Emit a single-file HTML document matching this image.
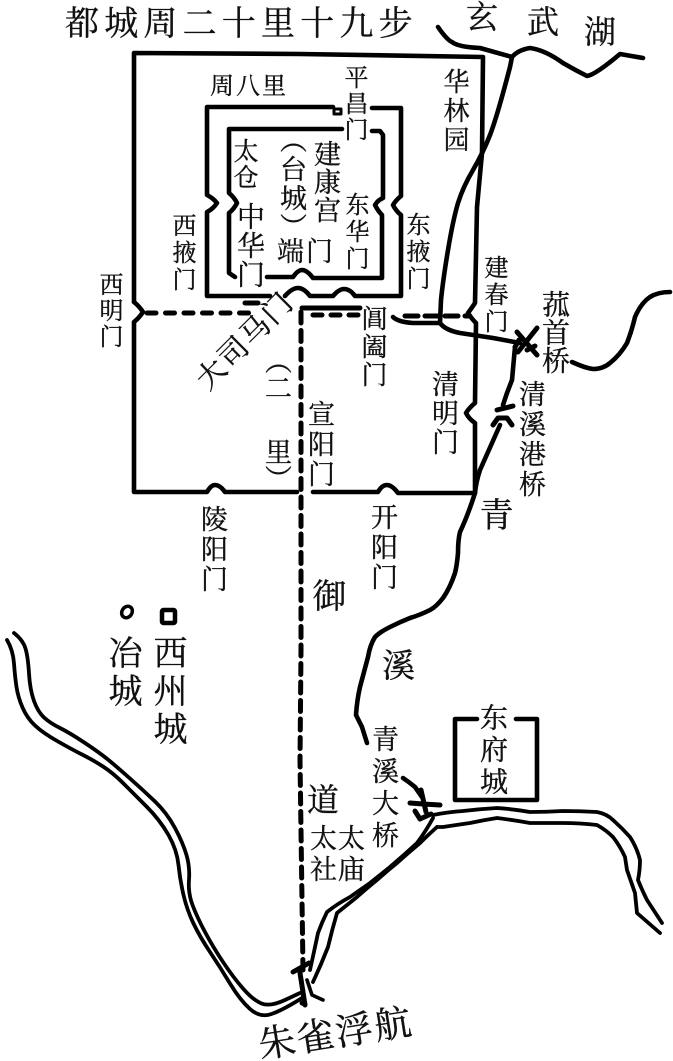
<!DOCTYPE html>
<html lang="zh"><head><meta charset="utf-8"><title>都城图</title>
<style>
html,body{margin:0;padding:0;background:#fff}
#p{position:relative;width:673px;height:1061px;overflow:hidden;background:#fff;font-family:"Liberation Serif","Noto Serif CJK SC",serif;color:#111;-webkit-text-stroke:.35px #111}
svg{position:absolute;left:0;top:0}
.v,.h{position:absolute;line-height:1;white-space:nowrap}
.v{writing-mode:vertical-rl;text-orientation:upright;margin-left:-4px}
</style></head><body><div id="p">
<svg width="673" height="1061" viewBox="0 0 673 1061" fill="none" stroke="#000" stroke-linecap="round" stroke-linejoin="round">
<!-- outer wall -->
<g stroke-width="4.6">
<path d="M134 302V53L300 54L483 57L482 153L477 207L475 303Q471 309 468 313Q471 318 476 323L475 403Q469 408 466 413Q469 419 475 423L475 493H398Q392 485 387 485Q382 485 378 492H313"/>
<path d="M134 302Q139 306 143 312Q139 318 134 322V492H207Q211 485 215 485Q220 485 225 492H297"/>
<!-- middle wall -->
<path d="M333 107H207V195Q213 198 217 203Q213 209 207 212V296H270M285 296Q292 288 298 288Q304 288 310 296H333Q339 289 344 289Q350 289 355 296H401V215Q396 211 393 205Q396 200 401 196V108H372"/>
<!-- inner wall -->
<path d="M342 129H229V193Q234 197 237 203Q234 209 229 213V273L235 277M267 277H293Q298 270 302 270Q307 270 313 278H382V215Q378 211 375 205Q378 200 383 198V135L380 131H372"/>
<path d="M334 109h7v5h-7z" stroke-width="3"/>
</g>
<!-- road -->
<g stroke-width="5">
<path stroke-dasharray="9 9.5" d="M147 313H252"/>
<path d="M245 303H258"/>
<path d="M302 308H360"/>
<path stroke-dasharray="9 9" d="M313 315H360"/>
<path stroke-dasharray="13 7" d="M405 316H470"/>
<path stroke-dasharray="11 7.5" d="M301 312L301 650L300 760L303 970"/>
</g>
<!-- rivers -->
<g stroke-width="4.6">
<path d="M438 27Q447 40 452 42Q458 47 480 48L512 57Q518 50 530 48Q545 50 563 63Q575 70 587 76Q595 75 620 54L643 58"/>
<path d="M512 57L510 67Q497 117 490 135Q483 153 473 170Q463 187 458 203Q453 220 448 250Q443 280 441 300L440 323Q445 330 460 333L493 338L520 343"/>
<path d="M393 317Q398 322 413 323L440 323"/>
<path d="M572 362Q585 368 593 369Q603 369 610 363Q620 355 627 343Q632 330 635 317Q641 303 650 297Q658 292 670 292"/>
<path d="M515 347L512 380L507 393L503 405"/>
<path d="M500 425L480 470Q476 482 475 493Q468 515 460 532Q458 540 458 553Q457 565 455 573Q450 588 443 598Q436 607 430 610Q420 615 410 618Q400 622 390 627Q380 632 375 637Q370 645 368 657Q364 672 360 687Q357 700 356 715L362 727L367 743"/>
<path d="M403 778Q409 782 415 787L422 797"/>
</g>
<g stroke-width="5">
<path d="M517 332L537 355M537 328L518 352M515 347L519 340M527 350L535 346"/>
<path d="M497 410L513 406M493 425L498 418H507L512 425"/>
<path d="M421 790L426 812M410 803L423 804L440 805M415 811L420 819L431 814"/>
<path d="M293 972L309 963M300 973L305 1005M302 1003L305 1004"/>
<path d="M307 980L312 995L323 1000" stroke-width="3.6"/>
</g>
<!-- double rivers -->
<g stroke-width="3.8">
<path d="M433 815Q448 812 463 811Q480 809 497 808Q513 809 530 812Q546 812 563 811Q580 811 597 812Q607 814 613 820Q622 828 630 837Q637 848 640 860Q640 870 638 880Q642 890 647 900L662 923"/>
<path d="M437 827L443 827Q456 825 470 823Q484 820 497 818Q513 820 530 823L563 823Q580 823 597 825Q606 830 613 837Q620 846 625 857L627 870L635 893L637 913L660 933"/>
<path d="M433 818Q426 831 417 843Q404 855 390 867Q380 875 370 883Q360 890 350 897Q337 904 327 912Q322 922 318 933Q314 952 310 970"/>
<path d="M437 827Q428 835 420 843Q408 853 397 863Q387 871 377 880Q367 888 357 897Q347 905 337 913Q332 930 328 947Q321 965 313 982"/>
<path d="M14 633Q23 640 25.500 648.500Q28 657 29 673.500Q30 690 34 701Q38 712 44 717.500Q50 723 60 728Q70 733 85 743Q100 753 108.500 760Q117 767 130 778.500Q143 790 155 801.500Q167 813 175 828Q183 843 186.500 855Q190 867 189 880Q188 893 192.500 905Q197 917 205 932Q213 947 223 962Q233 977 243 988.500Q253 1000 261.500 1003.500Q270 1007 285 1000L300 993"/>
<path d="M7 640Q13 650 14 663.500Q15 677 16.500 687Q18 697 22.500 707.500Q27 718 35 725.500Q43 733 58 741.500Q73 750 83 755Q93 760 103 766.500Q113 773 123 783Q133 793 146.500 806.500Q160 820 168.500 835Q177 850 178.500 865Q180 880 183.500 895Q187 910 193.500 923.500Q200 937 210 952Q220 967 230 983.500Q240 1000 250 1009Q260 1018 271.500 1014Q283 1010 302 998"/>
</g>
<!-- small cities -->
<ellipse cx="127" cy="612" rx="5" ry="6" stroke-width="3.5" transform="rotate(35 127 612)"/>
<rect x="162" y="610" width="13" height="13" rx="1.500" stroke-width="4.5"/>
<!-- east fort -->
<path d="M477 719H455V800H537V719H516" stroke-width="4.6"/>
</svg>

<div class="h" style="left:65px;top:8px;font-size:34px;letter-spacing:5.2px">都城周二十里十九步</div>
<div class="v" style="left:468px;top:0px;font-size:32px">玄</div>
<div class="v" style="left:529px;top:5px;font-size:32px">武</div>
<div class="v" style="left:586px;top:15px;font-size:32px">湖</div>

<div class="h" style="left:210px;top:75px;font-size:24px;letter-spacing:2px">周八里</div>
<div class="v" style="left:345px;top:65px;font-size:24px;letter-spacing:2px">平昌门</div>
<div class="v" style="left:445px;top:68px;font-size:26px;letter-spacing:3px">华林园</div>
<div class="v" style="left:235px;top:138px;font-size:25px;letter-spacing:1px">太仓</div>
<div class="v" style="left:281px;top:126px;font-size:27px;letter-spacing:2px">（台城）</div>
<div class="v" style="left:315px;top:140px;font-size:27px;letter-spacing:1px">建康宫</div>
<div class="v" style="left:346px;top:192px;font-size:24px;letter-spacing:3px">东华门</div>
<div class="v" style="left:238px;top:202px;font-size:28px;letter-spacing:1px">中华门</div>
<div class="h" style="left:277px;top:239px;font-size:27px;letter-spacing:2px">端门</div>
<div class="v" style="left:173px;top:213px;font-size:24px;letter-spacing:3px">西掖门</div>
<div class="v" style="left:407px;top:212px;font-size:24px;letter-spacing:3px">东掖门</div>
<div class="v" style="left:100px;top:272px;font-size:24px;letter-spacing:2px">西明门</div>
<div class="v" style="left:485px;top:255px;font-size:24px;letter-spacing:3px">建春门</div>
<div class="v" style="left:543px;top:290px;font-size:28px;letter-spacing:0">菰首桥</div>
<div class="v" style="left:363px;top:305px;font-size:26px;letter-spacing:2px">阊阖门</div>
<div class="h" style="left:184px;top:327px;font-size:29px;letter-spacing:2px;transform:rotate(-45deg);transform-origin:50% 50%">大司马门</div>
<div class="v" style="left:266px;top:347px;font-size:27px">（二</div>
<div class="v" style="left:266px;top:438px;font-size:27px">里）</div>
<div class="v" style="left:309px;top:400px;font-size:27px;letter-spacing:3px">宣阳门</div>
<div class="v" style="left:433px;top:370px;font-size:27px;letter-spacing:2px">清明门</div>
<div class="v" style="left:520px;top:380px;font-size:27px;letter-spacing:3px">清溪港桥</div>
<div class="v" style="left:479px;top:497px;font-size:34px">青</div>
<div class="v" style="left:202px;top:505px;font-size:27px;letter-spacing:3px">陵阳门</div>
<div class="v" style="left:372px;top:503px;font-size:27px;letter-spacing:3px">开阳门</div>
<div class="v" style="left:312px;top:578px;font-size:34px">御</div>
<div class="v" style="left:382px;top:648px;font-size:33px">溪</div>
<div class="v" style="left:108px;top:635px;font-size:34px;letter-spacing:4px">冶城</div>
<div class="v" style="left:153px;top:635px;font-size:34px;letter-spacing:4px">西州城</div>
<div class="v" style="left:373px;top:725px;font-size:27px;letter-spacing:5px">青溪大桥</div>
<div class="v" style="left:481px;top:703px;font-size:28px;letter-spacing:4px">东府城</div>
<div class="v" style="left:309px;top:783px;font-size:32px">道</div>
<div class="v" style="left:311px;top:824px;font-size:27px;letter-spacing:4px">太社</div>
<div class="v" style="left:339px;top:824px;font-size:27px;letter-spacing:4px">太庙</div>
<div class="h" style="left:258px;top:1016px;font-size:37px;letter-spacing:2px;transform:rotate(-9deg);transform-origin:50% 50%">朱雀浮航</div>
</div></body></html>
